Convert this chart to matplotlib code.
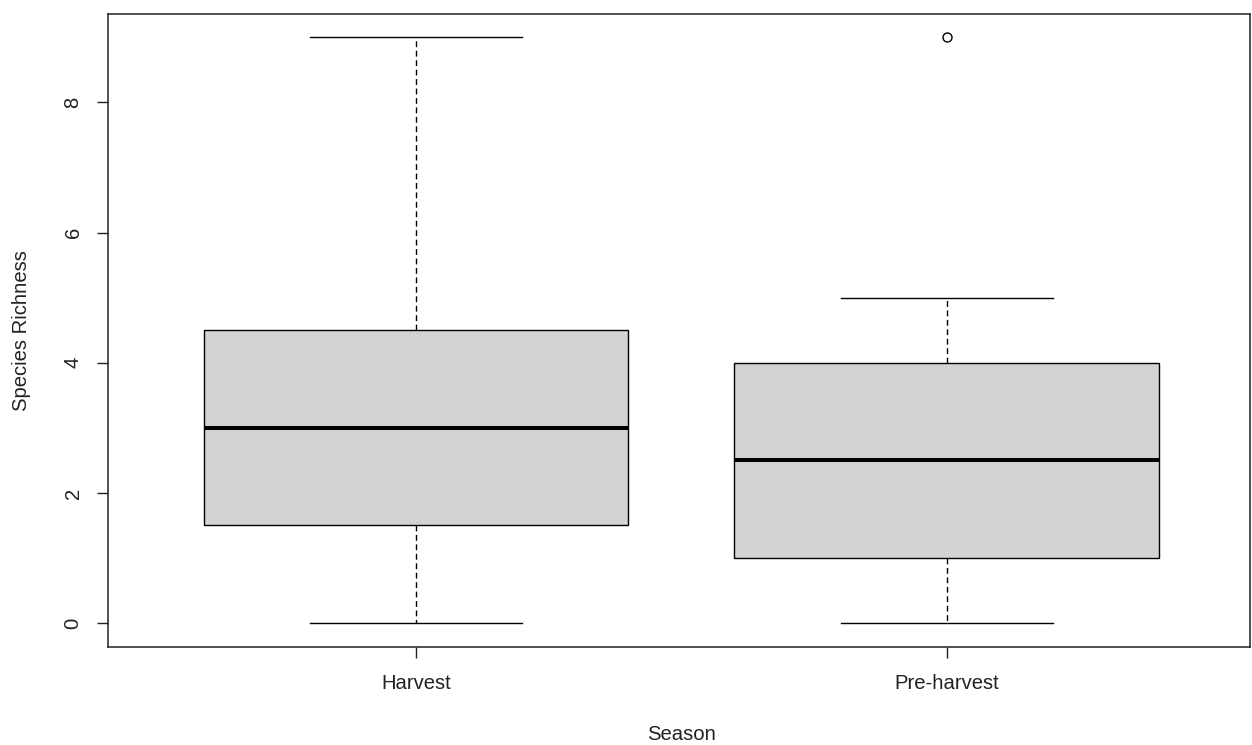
import matplotlib
matplotlib.use("Agg")
import matplotlib.pyplot as plt

plt.rcParams['font.family'] = ['Liberation Sans', 'DejaVu Sans']

seasons = ["Harvest", "Pre-harvest"]
whisker_low = [0, 0]
q1 = [1.5, 1.0]
median = [3.0, 2.5]
q3 = [4.5, 4.0]
whisker_high = [9, 5]
outliers = [[], [9]]

y_ticks = [0, 2, 4, 6, 8]

stats = []
for i, name in enumerate(seasons):
    stats.append(dict(label=name, whislo=whisker_low[i], q1=q1[i], med=median[i],
                      q3=q3[i], whishi=whisker_high[i], fliers=outliers[i]))

W, H = 1252, 745
FS = 14.6
fig = plt.figure(figsize=(W / 100, H / 100), dpi=100)
ax = fig.add_axes([107.5 / W, (H - 646.5) / H, (1250 - 107.5) / W, (646.5 - 14) / H])

ax.bxp(stats, positions=[1, 2], widths=0.8, patch_artist=True, showcaps=True,
       boxprops=dict(facecolor='#d3d3d3', edgecolor='black', linewidth=1.0),
       medianprops=dict(color='black', linewidth=2.9, solid_capstyle='butt'),
       whiskerprops=dict(color='black', linewidth=1.0, linestyle=(0, (4.2, 2.6))),
       capprops=dict(color='black', linewidth=1.0),
       capwidths=0.4,
       flierprops=dict(marker='o', markerfacecolor='none', markeredgecolor='black',
                       markersize=6.5, markeredgewidth=1.0))

ax.set_xlim(0.419, 2.571)
ax.set_ylim(-0.36, 9.36)
ax.set_yticks(y_ticks)
ax.set_yticklabels([str(t) for t in y_ticks], rotation=90, va='center')
ax.set_xticks([1, 2])
ax.set_xticklabels(seasons)

for s in ax.spines.values():
    s.set_linewidth(1.1)
    s.set_color('#222222')
ax.tick_params(axis='both', direction='out', length=8, width=1.0, colors='#222222',
               labelsize=FS, labelcolor='#222222')
ax.tick_params(axis='y', pad=10)
ax.tick_params(axis='x', pad=12)

fig.text(22 / W, 1 - 331 / H, "Species Richness", rotation=90, ha='center', va='center',
         fontsize=FS, color='#222222')
fig.text(681 / W, 1 - 735 / H, "Season", ha='center', va='center', fontsize=FS, color='#222222')

fig.savefig("out.png", dpi=100)
